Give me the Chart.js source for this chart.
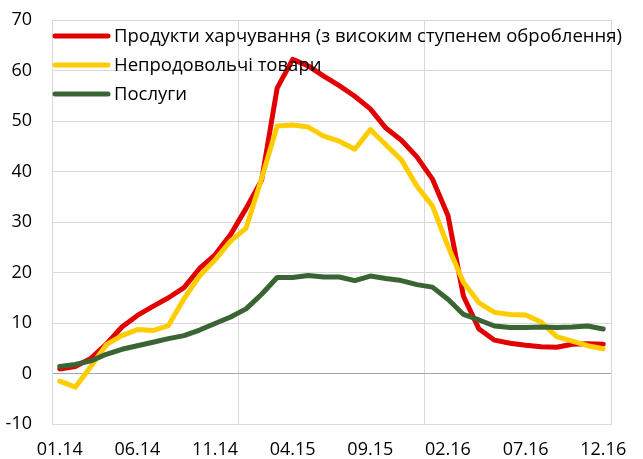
<!DOCTYPE html>
<html>
<head>
<meta charset="utf-8">
<script src="https://cdn.jsdelivr.net/npm/chart.js@4/dist/chart.umd.min.js"></script>
<style>
  html, body { margin: 0; padding: 0; background: #fff; }
  #wrap { width: 643px; height: 459px; }
</style>
</head>
<body>
<div id="wrap"><canvas id="c" width="643" height="459"></canvas></div>
<script>
const months = [
    '01.14','02.14','03.14','04.14','05.14','06.14','07.14','08.14','09.14','10.14','11.14','12.14',
    '01.15','02.15','03.15','04.15','05.15','06.15','07.15','08.15','09.15','10.15','11.15','12.15',
    '01.16','02.16','03.16','04.16','05.16','06.16','07.16','08.16','09.16','10.16','11.16','12.16'
];
const tickLabels = ['01.14','06.14','11.14','04.15','09.15','02.16','07.16','12.16'];

const foodProcessed = [0.9, 1.4, 3.0, 5.8, 9.2, 11.5, 13.3, 15.0, 17.0, 20.8, 23.5, 27.5,
    32.7, 38.3, 56.5, 62.2, 60.9, 58.9, 57.0, 54.9, 52.4, 48.6, 46.2, 42.9,
    38.5, 31.3, 15.3, 8.8, 6.6, 6.0, 5.6, 5.3, 5.2, 5.8, 5.9, 5.8];
const nonFood = [-1.5, -2.7, 1.4, 5.7, 7.5, 8.7, 8.5, 9.5, 14.8, 19.3, 22.5, 26.2,
    28.8, 38.6, 49.0, 49.2, 48.8, 47.0, 46.0, 44.4, 48.3, 45.3, 42.3, 37.1,
    33.2, 25.2, 18.0, 14.0, 12.1, 11.7, 11.6, 10.2, 7.3, 6.4, 5.5, 4.9];
const services = [1.4, 1.8, 2.5, 3.8, 4.8, 5.5, 6.2, 6.9, 7.5, 8.6, 9.9, 11.2,
    12.8, 15.7, 19.0, 19.0, 19.4, 19.1, 19.1, 18.4, 19.3, 18.8, 18.4, 17.6,
    17.1, 14.7, 11.7, 10.6, 9.4, 9.1, 9.1, 9.2, 9.1, 9.2, 9.4, 8.8];

const FONT = '"Open Sans", "Noto Sans", sans-serif';
const gridColor = '#d9d9d9';

// legend sits inside the plot, drawn over the lines like in Excel
const innerLegend = {
    id: 'innerLegend',
    afterDatasetsDraw(chart) {
        const ctx = chart.ctx;
        const x0 = 55, x1 = 108, rowY = 36, rowGap = 29;
        ctx.save();
        ctx.font = '18.5px ' + FONT;
        ctx.textBaseline = 'middle';
        ctx.fillStyle = '#000';
        chart.data.datasets.forEach((ds, i) => {
            const y = rowY + i * rowGap;
            ctx.strokeStyle = ds.borderColor;
            ctx.lineWidth = 5;
            ctx.lineCap = 'round';
            ctx.beginPath();
            ctx.moveTo(x0, y);
            ctx.lineTo(x1, y);
            ctx.stroke();
            ctx.fillText(ds.label, 114, y + 1);
        });
        ctx.restore();
    }
};

new Chart(document.getElementById('c'), {
    type: 'line',
    data: {
        labels: months,
        datasets: [
            { label: 'Продукти харчування (з високим ступенем оброблення)', data: foodProcessed,
              borderColor: '#e30000', order: 2 },
            { label: 'Непродовольчі товари', data: nonFood, borderColor: '#ffcc00', order: 1 },
            { label: 'Послуги', data: services, borderColor: '#3b6435', order: 0 }
        ].map(d => Object.assign(d, {
            borderWidth: 5, pointRadius: 0, tension: 0, fill: false,
            borderJoinStyle: 'round', borderCapStyle: 'round'
        }))
    },
    options: {
        responsive: false,
        animation: false,
        layout: { padding: { top: 20, right: 32, left: 0, bottom: 0 } },
        plugins: { legend: { display: false }, tooltip: { enabled: false } },
        scales: {
            x: {
                offset: true,
                grid: {
                    offset: true,
                    drawTicks: false,
                    color: c => (c.type !== 'tick' || c.index % 12 === 0) ? gridColor : 'rgba(0,0,0,0)'
                },
                border: { color: gridColor },
                ticks: {
                    autoSkip: false, maxRotation: 0, padding: 15,
                    color: '#000', font: { family: FONT, size: 18 },
                    callback: function (v, i) {
                        const l = months[i];
                        return tickLabels.includes(l) ? l : '';
                    }
                },
                afterFit: s => { s.height = 35; s.paddingLeft = 0; s.paddingRight = 0; }
            },
            y: {
                min: -10, max: 70,
                grid: {
                    drawTicks: false,
                    color: c => c.tick && c.tick.value === 0 ? '#a6a6a6' : gridColor
                },
                border: { color: gridColor },
                ticks: { stepSize: 10, padding: 20, color: '#000', font: { family: FONT, size: 18 } },
                afterFit: s => { s.width = 52; s.paddingTop = 0; s.paddingBottom = 0; }
            }
        }
    },
    plugins: [innerLegend]
});
</script>
</body>
</html>
